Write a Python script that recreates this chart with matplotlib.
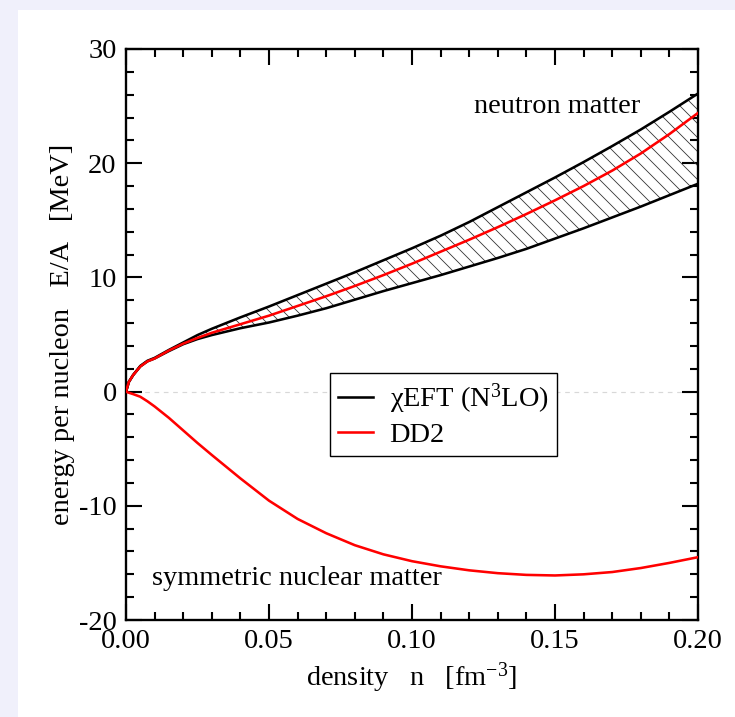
import matplotlib
matplotlib.use("Agg")
import matplotlib.pyplot as plt
from matplotlib.patches import Rectangle
from matplotlib.lines import Line2D
from matplotlib.ticker import MultipleLocator, FormatStrFormatter

# ---- data ----
density = [0, 0.001, 0.0025, 0.005, 0.0075, 0.01, 0.015, 0.02, 0.025, 0.03,
           0.04, 0.05, 0.06, 0.07, 0.08, 0.09, 0.10, 0.11, 0.12, 0.13,
           0.14, 0.15, 0.16, 0.17, 0.18, 0.19, 0.20]
eft_upper = [0, 0.85, 1.45, 2.25, 2.7, 2.95, 3.65, 4.3, 4.95, 5.5,
             6.5, 7.45, 8.45, 9.45, 10.45, 11.5, 12.55, 13.65, 14.85, 16.15,
             17.45, 18.75, 20.1, 21.5, 22.95, 24.5, 26.1]
eft_lower = [0, 0.85, 1.45, 2.2, 2.65, 2.9, 3.55, 4.15, 4.6, 4.95,
             5.55, 6.05, 6.65, 7.3, 8.05, 8.8, 9.5, 10.2, 10.95, 11.7,
             12.5, 13.4, 14.3, 15.25, 16.2, 17.2, 18.2]
dd2_pnm = [0, 0.85, 1.45, 2.2, 2.65, 2.9, 3.6, 4.2, 4.7, 5.15,
           5.9, 6.65, 7.5, 8.35, 9.25, 10.2, 11.2, 12.25, 13.3, 14.4,
           15.55, 16.75, 18.0, 19.35, 20.85, 22.55, 24.4]
dd2_snm = [0, -0.1, -0.22, -0.45, -0.85, -1.3, -2.3, -3.4, -4.5, -5.55,
           -7.6, -9.55, -11.15, -12.4, -13.45, -14.25, -14.85, -15.3, -15.65, -15.9,
           -16.05, -16.1, -16.0, -15.8, -15.45, -15.0, -14.5]

x_ticks = [0.00, 0.05, 0.10, 0.15, 0.20]
y_ticks = [-20, -10, 0, 10, 20, 30]
legend_labels = [r"χEFT (N$^{3}$LO)", "DD2"]

# ---- style ----
DPI = 84
FS = 24.3
LW = 2.2
plt.rcParams['font.family'] = ['Liberation Serif', 'DejaVu Serif']
plt.rcParams['mathtext.fontset'] = 'custom'
plt.rcParams['mathtext.rm'] = 'Liberation Serif'
plt.rcParams['mathtext.it'] = 'Liberation Serif'
plt.rcParams['axes.unicode_minus'] = False
plt.rcParams['hatch.linewidth'] = 0.7

fig = plt.figure(figsize=(735 / DPI, 717 / DPI), dpi=DPI, facecolor='#f0f0fb')
fig.patches.append(Rectangle((18 / 735, 0), 1, (717 - 10) / 717,
                             transform=fig.transFigure, facecolor='white',
                             edgecolor='none', zorder=-10))

ax = fig.add_axes([126 / 735, (717 - 620) / 717, 572 / 735, 571 / 717])
ax.set_facecolor('white')

ax.axhline(0, color='#d8d8d8', lw=1.0, ls=(0, (4, 4)), zorder=1)

ax.fill_between(density, eft_lower, eft_upper, facecolor='none',
                edgecolor='#333333', hatch='\\\\', linewidth=0, zorder=2)
ax.plot(density, eft_upper, color='black', lw=LW, zorder=3)
ax.plot(density, eft_lower, color='black', lw=LW, zorder=3)
ax.plot(density, dd2_pnm, color='red', lw=LW, zorder=4)
ax.plot(density, dd2_snm, color='red', lw=LW, zorder=4)

ax.set_xlim(0, 0.2)
ax.set_ylim(-20, 30)
ax.set_xticks(x_ticks)
ax.set_yticks(y_ticks)
ax.xaxis.set_major_formatter(FormatStrFormatter('%.2f'))
ax.yaxis.set_major_formatter(FormatStrFormatter('%d'))
ax.xaxis.set_minor_locator(MultipleLocator(0.01))
ax.yaxis.set_minor_locator(MultipleLocator(2))
ax.tick_params(which='both', direction='in', top=True, right=True,
               labelsize=FS, width=1.8, colors='black')
ax.tick_params(which='major', length=13.4, pad=8)
ax.tick_params(which='minor', length=6.9)
for s in ax.spines.values():
    s.set_linewidth(2.0)

ax.set_xlabel(r"density   n   [fm$^{-3}$]", fontsize=FS, labelpad=5)
ax.set_ylabel("energy per nucleon   E/A   [MeV]", fontsize=FS, labelpad=3)

ax.text(0.1217, 24.4, "neutron matter", fontsize=FS)
ax.text(0.009, -16.9, "symmetric nuclear matter", fontsize=FS)

handles = [Line2D([], [], color='black', lw=LW), Line2D([], [], color='red', lw=LW)]
leg = ax.legend(handles, legend_labels, loc='upper left',
                bbox_to_anchor=(0.3566, 0.432), borderaxespad=0,
                fontsize=FS, fancybox=False, framealpha=1, edgecolor='black',
                handlelength=1.2, handletextpad=0.6, labelspacing=0.2,
                borderpad=0.3)
leg.get_frame().set_linewidth(1.2)
leg.set_zorder(5)

fig.savefig("out.png", dpi=DPI, facecolor=fig.get_facecolor())
